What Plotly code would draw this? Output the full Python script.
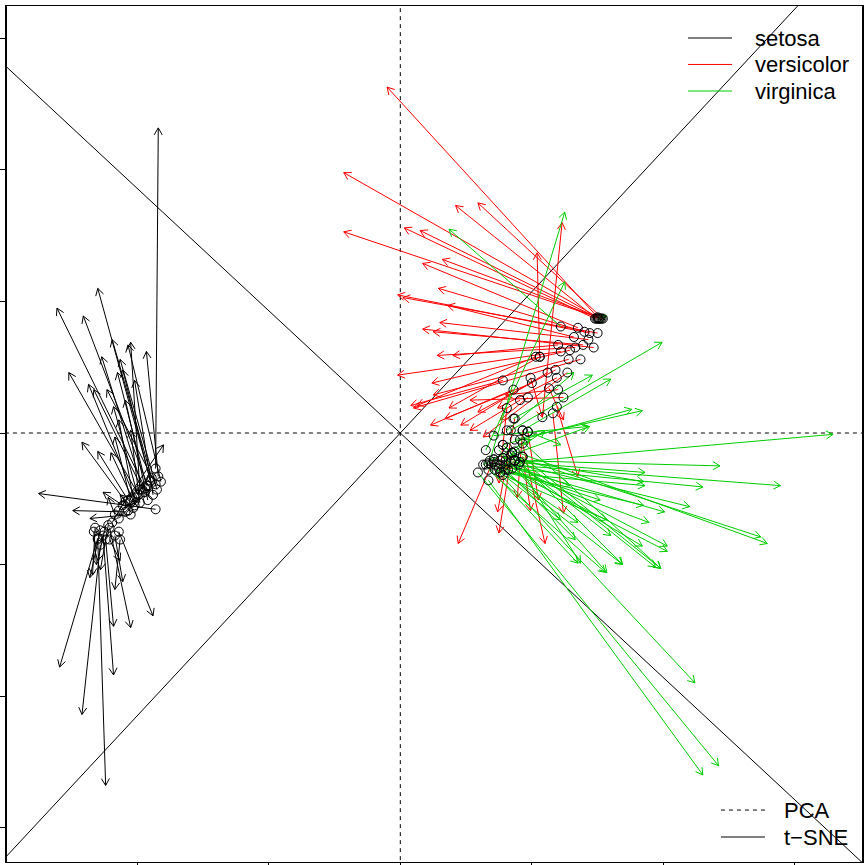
import numpy as np
import plotly.graph_objects as go

# ---------------- data (PCA position -> t-SNE position per flower) ----------------
species = ["setosa", "versicolor", "virginica"]
species_colors = ["#000000", "#FF0000", "#00CD00"]

setosa_pca_x = [-1.86, -1.90, -1.94, -1.92, -1.89, -1.98, -1.84, -1.95, -1.99, -1.93,
                -1.90, -2.02, -1.96, -1.86, -2.00, -2.05, -2.09, -2.07, -2.04, -2.14,
                -1.86, -2.09, -2.05, -2.11, -1.82, -1.85, -1.88, -1.92, -2.02, -1.98,
                -2.28, -2.17, -2.24, -2.21, -2.14, -2.30, -2.26, -2.28, -2.30, -2.32,
                -2.22, -2.13, -2.33, -2.19, -2.14, -2.07, -2.17, -2.03, -2.25, -2.21]
setosa_pca_y = [-0.27, -0.36, -0.42, -0.40, -0.34, -0.43, -0.33, -0.45, -0.47, -0.40,
                -0.37, -0.49, -0.43, -0.39, -0.46, -0.51, -0.52, -0.51, -0.49, -0.59,
                -0.58, -0.60, -0.62, -0.55, -0.37, -0.43, -0.47, -0.51, -0.55, -0.53,
                -0.74, -0.78, -0.81, -0.72, -0.75, -0.80, -0.78, -0.85, -0.81, -0.72,
                -0.70, -0.81, -0.75, -0.68, -0.65, -0.59, -0.62, -0.57, -0.75, -0.81]
setosa_tsne_x = [-1.84, -2.30, -2.61, -2.41, -2.19, -2.05, -1.93, -2.27, -2.52, -2.15,
                 -2.11, -2.37, -2.33, -2.23, -2.18, -2.17, -2.42, -2.30, -2.20, -1.80,
                 -2.75, -2.49, -2.36, -2.26, -2.07, -2.13, -2.02, -2.09, -2.14, -2.05,
                 -2.36, -2.11, -2.18, -2.05, -1.88, -2.59, -2.18, -2.42, -2.24, -2.34,
                 -2.28, -2.17, -2.31, -2.09, -1.98, -1.90, -2.22, -2.13, -2.30, -2.13]
setosa_tsne_y = [2.32, 1.10, 0.95, 0.89, 0.71, 0.69, 0.62, 0.58, 0.46, 0.46,
                 0.48, 0.37, 0.33, 0.33, 0.20, -0.03, -0.07, -0.14, -0.15, -0.09,
                 -0.46, -0.59, -0.65, -0.45, 0.67, 0.56, 0.40, 0.25, 0.10, 0.02,
                 -1.10, -1.13, -1.47, -1.48, -1.39, -1.78, -1.84, -2.14, -2.68, -1.08,
                 -1.04, -1.19, -1.00, -0.51, -0.49, -0.43, -0.49, -0.47, -0.97, -0.97]

versicolor_pca_x = [1.51, 1.52, 1.49, 1.54, 1.48, 1.51, 1.50, 1.53, 1.35, 1.40,
                    1.44, 1.50, 1.32, 1.43, 1.47, 1.39, 1.33, 1.20, 1.22, 1.29,
                    1.28, 1.37, 1.03, 1.06, 1.12, 1.18, 1.27, 1.19, 1.06, 1.08,
                    0.71, 0.81, 0.93, 0.87, 0.97, 0.85, 0.93, 1.16, 1.19, 1.13,
                    0.99, 0.78, 0.86, 0.91, 0.97, 1.00, 1.24, 1.20, 0.93, 0.87]
versicolor_pca_y = [0.87, 0.87, 0.87, 0.87, 0.87, 0.87, 0.88, 0.87, 0.80, 0.77,
                    0.76, 0.76, 0.73, 0.71, 0.65, 0.67, 0.65, 0.67, 0.62, 0.63,
                    0.56, 0.56, 0.58, 0.58, 0.46, 0.48, 0.46, 0.42, 0.58, 0.12,
                    -0.20, 0.19, 0.02, 0.11, 0.01, -0.15, -0.08, 0.15, 0.20, 0.34,
                    0.42, 0.40, 0.33, 0.25, 0.27, 0.38, 0.27, 0.33, -0.18, -0.21]
versicolor_tsne_x = [-0.10, -0.43, 0.42, 0.59, 0.03, 0.15, -0.43, 0.32, 0.17, 0.29,
                     -0.02, 0.02, 0.36, 0.30, 0.17, 0.25, 0.28, 0.40, -0.02, 0.24,
                     0.25, 0.10, 0.13, 0.37, 0.46, 0.59, 0.63, 0.74, 1.04, 1.23,
                     0.44, 0.75, 0.89, 0.74, 1.05, 0.75, 1.10, 1.24, 1.35, 1.24,
                     1.08, 0.08, 0.23, 0.53, 0.76, 0.34, 0.53, 0.80, 0.99, 0.80]
versicolor_tsne_y = [2.63, 1.98, 1.73, 1.75, 1.56, 1.54, 1.53, 1.32, 1.29, 1.10,
                     1.05, 1.03, 0.97, 0.84, 0.79, 0.77, 0.59, 0.59, 0.44, 0.38,
                     0.29, 0.19, 0.21, 0.19, 0.06, 0.16, -0.03, 0.19, 1.37, 1.60,
                     -0.84, -0.38, -0.49, -0.60, -0.51, -0.76, -0.84, -0.61, -0.33, 0.10,
                     0.12, 0.21, 0.06, 0.02, 0.10, 0.11, 0.25, 0.29, -0.59, -0.28]

virginica_pca_x = [0.91, 0.87, 0.84, 0.80, 0.85, 0.76, 0.78, 0.90, 0.72, 0.76,
                   0.82, 0.78, 0.75, 0.84, 0.87, 0.80, 0.71, 0.76, 0.72, 0.67,
                   0.65, 0.93, 0.85, 0.69, 0.59, 0.67, 0.68, 1.22, 0.65, 0.84,
                   0.93, 0.86, 0.81, 0.87, 0.78, 0.71, 1.50, 0.78, 0.81, 0.75,
                   0.78, 0.91, 0.85, 0.97, 0.63, 0.71, 0.76, 0.87, 0.67, 0.80]
virginica_pca_y = [-0.22, -0.21, -0.22, -0.24, -0.27, -0.30, -0.19, -0.24, -0.28, -0.24,
                   -0.28, -0.32, -0.27, -0.17, -0.14, -0.21, -0.22, -0.21, -0.24, -0.28,
                   -0.24, -0.18, -0.15, -0.24, -0.30, -0.36, -0.21, 0.81, -0.13, 0.02,
                   0.02, 0.11, 0.02, -0.05, -0.09, -0.02, 0.87, -0.19, -0.11, -0.13,
                   -0.09, -0.05, -0.15, 0.01, -0.24, -0.20, -0.30, -0.21, -0.23, -0.28]
virginica_tsne_x = [3.29, 2.43, 1.86, 2.89, 2.30, 1.86, 1.85, 2.20, 1.85, 2.01,
                    1.89, 1.57, 1.35, 2.74, 2.79, 2.03, 2.03, 1.84, 1.69, 1.56,
                    1.35, 1.98, 1.94, 2.24, 2.42, 2.30, 1.25, 0.37, 1.25, 1.99,
                    1.60, 1.46, 1.32, 1.84, 1.76, 1.43, 1.57, 1.44, 1.37, 1.57,
                    1.69, 1.98, 1.10, 1.22, 0.99, 1.29, 1.22, 1.60, 1.52, 1.33]
virginica_tsne_y = [-0.01, -0.25, -0.30, -0.40, -0.41, -0.40, -0.37, -0.56, -0.55, -0.60,
                    -0.68, -0.66, -0.68, -0.79, -0.84, -0.86, -0.90, -0.86, -1.00, -1.06,
                    -0.99, -1.03, -1.02, -1.90, -2.53, -2.60, 1.68, 1.55, 1.15, 0.69,
                    0.41, 0.44, 0.46, 0.17, 0.18, 0.05, 0.89, 0.05, -0.99, -1.06,
                    -1.00, -1.03, 0.02, -0.09, -0.05, -0.40, -0.66, -0.78, -0.51, -0.81]

# slopes of the (rotated) t-SNE axes drawn through the origin
tsne_axis_slopes = [-0.93, 1.075]
axis_ticks = [-3, -2, -1, 0, 1, 2, 3]

pca_x = [setosa_pca_x, versicolor_pca_x, virginica_pca_x]
pca_y = [setosa_pca_y, versicolor_pca_y, virginica_pca_y]
tsne_x = [setosa_tsne_x, versicolor_tsne_x, virginica_tsne_x]
tsne_y = [setosa_tsne_y, versicolor_tsne_y, virginica_tsne_y]

X_RANGE = [-2.99, 3.51]
Y_RANGE = [-3.262, 3.247]
HEAD_LEN = 0.061          # arrow head length in data units (equal aspect)
HEAD_ANG = np.deg2rad(30)

FONT = "Liberation Sans, Arial, Helvetica, sans-serif"


def arrow_paths(x0s, y0s, x1s, y1s):
    xs, ys = [], []
    for x0, y0, x1, y1 in zip(x0s, y0s, x1s, y1s):
        dx, dy = x1 - x0, y1 - y0
        length = np.hypot(dx, dy)
        if length == 0:
            continue
        ux, uy = -dx / length, -dy / length
        legs = []
        for s in (1, -1):
            c, si = np.cos(s * HEAD_ANG), np.sin(s * HEAD_ANG)
            legs.append((x1 + HEAD_LEN * (c * ux - si * uy),
                         y1 + HEAD_LEN * (si * ux + c * uy)))
        xs += [x0, x1, None, legs[0][0], x1, legs[1][0], None]
        ys += [y0, y1, None, legs[0][1], y1, legs[1][1], None]
    return xs, ys


fig = go.Figure()

# PCA axes (dashed)
fig.add_trace(go.Scatter(x=[0, 0], y=[-10, 10], mode="lines",
                         line=dict(color="black", width=1, dash="4px,4px"),
                         hoverinfo="skip", showlegend=False))
fig.add_trace(go.Scatter(x=[-10, 10], y=[0, 0], mode="lines",
                         line=dict(color="black", width=1, dash="4px,4px"),
                         hoverinfo="skip", showlegend=False))
# t-SNE axes (solid)
for m in tsne_axis_slopes:
    fig.add_trace(go.Scatter(x=[-10, 10], y=[-10 * m, 10 * m], mode="lines",
                             line=dict(color="black", width=1),
                             hoverinfo="skip", showlegend=False))

# arrows
for name, col, x0s, y0s, x1s, y1s in zip(species, species_colors, pca_x, pca_y, tsne_x, tsne_y):
    ax, ay = arrow_paths(x0s, y0s, x1s, y1s)
    fig.add_trace(go.Scatter(x=ax, y=ay, mode="lines", name=name,
                             line=dict(color=col, width=1),
                             hoverinfo="skip", showlegend=False))

# starting points (open circles)
for name, x0s, y0s in zip(species, pca_x, pca_y):
    fig.add_trace(go.Scatter(x=x0s, y=y0s, mode="markers", name=name,
                             marker=dict(symbol="circle-open", size=9,
                                         color="black", line=dict(width=1)),
                             showlegend=False))

# ---------------- custom legends (R style, no box) ----------------
shapes = []
annotations = []
leg_rows = [0.9626, 0.9317, 0.9007]
for name, col, yy in zip(species, species_colors, leg_rows):
    shapes.append(dict(type="line", xref="paper", yref="paper",
                       x0=0.7965, x1=0.848, y0=yy, y1=yy,
                       line=dict(color=col, width=1)))
    annotations.append(dict(text=name, xref="paper", yref="paper", x=0.8725, y=yy,
                            xanchor="left", yanchor="middle", showarrow=False,
                            font=dict(family=FONT, size=22, color="black")))

method_names = ["PCA", "t\u2212SNE"]
method_dash = ["4px,4px", "solid"]
method_rows = [0.0607, 0.0292]
for name, dash, yy in zip(method_names, method_dash, method_rows):
    shapes.append(dict(type="line", xref="paper", yref="paper",
                       x0=0.835, x1=0.8865, y0=yy, y1=yy,
                       line=dict(color="black", width=1, dash=dash)))
    annotations.append(dict(text=name, xref="paper", yref="paper", x=0.907, y=yy,
                            xanchor="left", yanchor="middle", showarrow=False,
                            font=dict(family=FONT, size=22, color="black")))

fig.update_layout(
    width=866, height=865, autosize=False,
    margin=dict(l=7, r=4, t=6, b=3, pad=0),
    plot_bgcolor="white", paper_bgcolor="white",
    showlegend=False,
    shapes=shapes, annotations=annotations,
    font=dict(family=FONT, color="black"),
)
fig.update_xaxes(range=X_RANGE, showgrid=False, zeroline=False, automargin=False,
                 showline=True, mirror=True, linecolor="black", linewidth=1,
                 ticks="outside", ticklen=6, tickcolor="black",
                 tickvals=axis_ticks, showticklabels=False)
fig.update_yaxes(range=Y_RANGE, showgrid=False, zeroline=False, automargin=False,
                 showline=True, mirror=True, linecolor="black", linewidth=1.5,
                 ticks="outside", ticklen=6, tickcolor="black",
                 tickvals=axis_ticks, showticklabels=False)

fig.write_html(
    "out.html",
    config={"displayModeBar": False},
    post_script="document.body.style.margin='0px';"
                "document.body.style.overflow='hidden';"
                "document.documentElement.style.overflow='hidden';",
)
